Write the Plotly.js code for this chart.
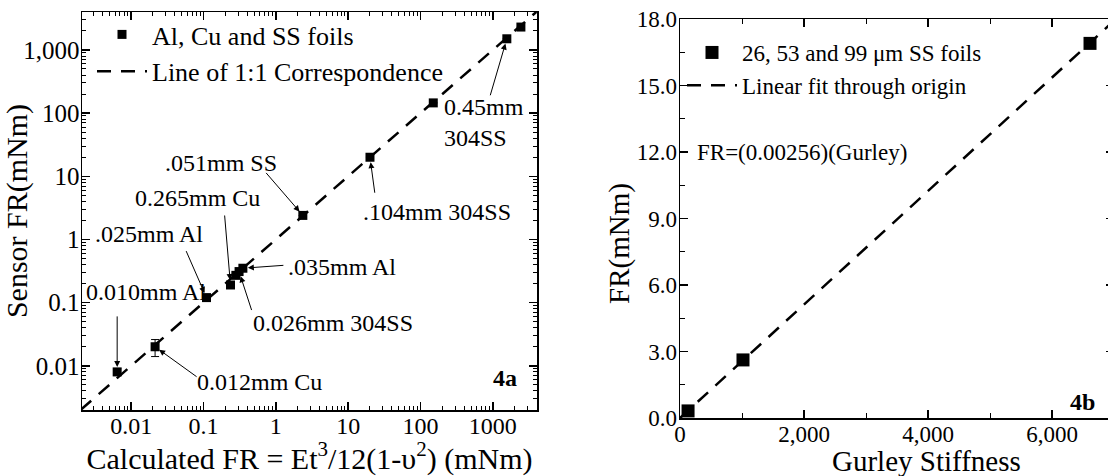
<!DOCTYPE html>
<html><head><meta charset="utf-8">
<script src="https://cdn.plot.ly/plotly-3.0.1.min.js"></script>
<style>html,body{margin:0;padding:0;overflow:hidden;background:#fff}</style>
</head><body><div id="chart" style="width:1114px;height:476px"></div>
<script>
// ---- Figure 4a data (log-log) ----
const calcFR   = [0.0064, 0.0214, 0.11, 0.236, 0.28, 0.31, 0.35, 2.36, 20, 150, 1560, 2440];
const sensorFR = [0.008, 0.020, 0.12, 0.19, 0.27, 0.31, 0.35, 2.4, 20, 145, 1500, 2300];
const sensorErr = [0.001, 0.006, 0.01, 0, 0, 0, 0, 0, 0, 0, 0, 0];
const lineX = [0.002, 4000];
const lineY = [0.002, 4000];
const logTickVals = [0.01, 0.1, 1, 10, 100, 1000];
const xTickText = ['0.01', '0.1', '1', '10', '100', '1000'];
const yTickText = ['0.01', '0.1', '1', '10', '100', '1,000'];
const labelNames = ['0.010mm Al', '0.012mm Cu', '.025mm Al', '0.265mm Cu', '0.026mm 304SS', '.035mm Al', '.051mm SS', '.104mm 304SS', '0.45mm<br>304SS'];
const labelPoint = [0, 1, 2, 3, 5, 6, 7, 8, 10];

// ---- Figure 4b data (linear) ----
const gurley = [130, 1016, 6613];
const frB = [0.32, 2.62, 16.9];
const fitX = [0, 7000];
const fitY = [0, 17.92];
const bTickVals = [0, 2000, 4000, 6000];
const bTickText = ['0', '2,000', '4,000', '6,000'];
const yBTickVals = [0, 3, 6, 9, 12, 15, 18];
const yBTickText = ['0.0', '3.0', '6.0', '9.0', '12.0', '15.0', '18.0'];

// ---- layout helpers (pixel placement of text) ----
const W = 1114, H = 476;
const FONT = '"Liberation Serif", "Times New Roman", Times, serif';
const px = v => v / W;
const py = v => 1 - v / H;

// text label centers (pixels) and arrow tail offsets (pixels)
const labelPos = [[146, 292], [259, 382], [149, 234], [197, 198], [333, 323], [342, 267], [221, 163], [437, 212], [442, 123]];
const arrowOff = [[0, -57], [43, 31], [-21, -48], [-6, -71], [13, 40], [42, -3], [-38, -44], [5, 37], [-17, 58]];

const traces = [
  {x: calcFR, y: sensorFR, type: 'scatter', mode: 'markers', name: 'Al, Cu and SS foils',
   xaxis: 'x', yaxis: 'y', legend: 'legend',
   marker: {symbol: 'square', size: 9, color: '#000'},
   error_y: {type: 'data', array: sensorErr, visible: true, color: '#000', thickness: 1, width: 4}},
  {x: lineX, y: lineY, type: 'scatter', mode: 'lines', name: 'Line of 1:1 Correspondence',
   xaxis: 'x', yaxis: 'y', legend: 'legend',
   line: {color: '#000', width: 2.5, dash: '14px,10px'}},
  {x: gurley, y: frB, type: 'scatter', mode: 'markers', name: '26, 53 and 99 \u03bcm SS foils',
   xaxis: 'x2', yaxis: 'y2', legend: 'legend2',
   marker: {symbol: 'square', size: 13, color: '#000'}},
  {x: fitX, y: fitY, type: 'scatter', mode: 'lines', name: 'Linear fit through origin',
   xaxis: 'x2', yaxis: 'y2', legend: 'legend2',
   line: {color: '#000', width: 2.5, dash: '14px,10px'}}
];

function txt(t, x, y, size, extra) {
  return Object.assign({text: t, xref: 'paper', yref: 'paper', x: px(x), y: py(y),
    xanchor: 'center', yanchor: 'middle', showarrow: false,
    font: {family: FONT, size: size, color: '#000'}}, extra || {});
}

const annotations = [];
labelNames.forEach((t, i) => {
  const p = labelPos[i];
  const multi = t.indexOf('<br>') >= 0;
  annotations.push(txt(t, p[0], p[1], 24, multi ? {xanchor: 'left', align: 'left'} : {}));
  const k = labelPoint[i];
  annotations.push({text: '', xref: 'x', yref: 'y', x: Math.log10(calcFR[k]), y: Math.log10(sensorFR[k]),
    ax: arrowOff[i][0], ay: arrowOff[i][1], showarrow: true, arrowhead: 2, arrowsize: 1.2,
    arrowwidth: 1, arrowcolor: '#000', standoff: 5});
});
annotations.push(txt('<b>4a</b>', 505, 378, 24));
annotations.push(txt('<b>4b</b>', 1082, 402, 24));
annotations.push(txt('FR=(0.00256)(Gurley)', 695, 152, 23, {xanchor: 'left'}));
annotations.push(txt('Gurley Stiffness', 926, 461, 29));
annotations.push(txt('FR(mNm)', 620, 244, 29, {textangle: -90}));

const axBase = {showgrid: false, zeroline: false, showline: true, linecolor: '#000', linewidth: 1.5,
  mirror: 'ticks', ticks: 'inside', ticklen: 8, tickwidth: 1.5, tickcolor: '#000'};

const layout = {
  width: W, height: H, margin: {l: 0, r: 0, t: 0, b: 0},
  paper_bgcolor: '#fff', plot_bgcolor: '#fff',
  font: {family: FONT, color: '#000'},
  showlegend: true,
  xaxis: Object.assign({}, axBase, {type: 'log', range: [-2.68, 3.61], domain: [px(82), px(537)], anchor: 'y',
    tickmode: 'array', tickvals: logTickVals, ticktext: xTickText, tickfont: {family: FONT, size: 24},
    ticklabelstandoff: -6,
    minor: {ticks: 'inside', ticklen: 4, dtick: 'D1', tickcolor: '#000', tickwidth: 1},
    title: {text: 'Calculated FR = Et<sup>3</sup>/12(1-\u03c5<sup>2</sup>) (mNm)', font: {family: FONT, size: 30}, standoff: 0}}),
  yaxis: Object.assign({}, axBase, {type: 'log', range: [-2.70, 3.60], domain: [1 - 410 / H, 1 - 12 / H], anchor: 'x',
    tickmode: 'array', tickvals: logTickVals, ticktext: yTickText, tickfont: {family: FONT, size: 25},
    ticklabelstandoff: -4,
    minor: {ticks: 'inside', ticklen: 4, dtick: 'D1', tickcolor: '#000', tickwidth: 1},
    title: {text: 'Sensor FR(mNm)', font: {family: FONT, size: 30}, standoff: 4}}),
  xaxis2: Object.assign({}, axBase, {range: [0, 7000], domain: [px(680), 1], anchor: 'y2',
    tickmode: 'array', tickvals: bTickVals, ticktext: bTickText, tickfont: {family: FONT, size: 23},
    ticklabelstandoff: -5,
    minor: {ticks: 'inside', ticklen: 5, dtick: 1000, tickcolor: '#000', tickwidth: 1}}),
  yaxis2: Object.assign({}, axBase, {range: [0, 18], domain: [1 - 418 / H, 1 - 19 / H], anchor: 'x2',
    tickmode: 'array', tickvals: yBTickVals, ticktext: yBTickText, tickfont: {family: FONT, size: 23},
    ticklabelstandoff: -3,
    minor: {ticks: 'inside', ticklen: 5, dtick: 1.5, tickcolor: '#000', tickwidth: 1}}),
  legend: {x: px(92), y: py(11), xanchor: 'left', yanchor: 'top', bgcolor: 'rgba(0,0,0,0)',
    font: {family: FONT, size: 26, color: '#000'}, itemwidth: 50, tracegroupgap: 0},
  legend2: {x: px(682), y: py(31), xanchor: 'left', yanchor: 'top', bgcolor: 'rgba(0,0,0,0)',
    font: {family: FONT, size: 23, color: '#000'}, itemwidth: 50, tracegroupgap: 0},
  annotations: annotations
};

Plotly.newPlot('chart', traces, layout, {displayModeBar: false, staticPlot: true});
</script></body></html>
